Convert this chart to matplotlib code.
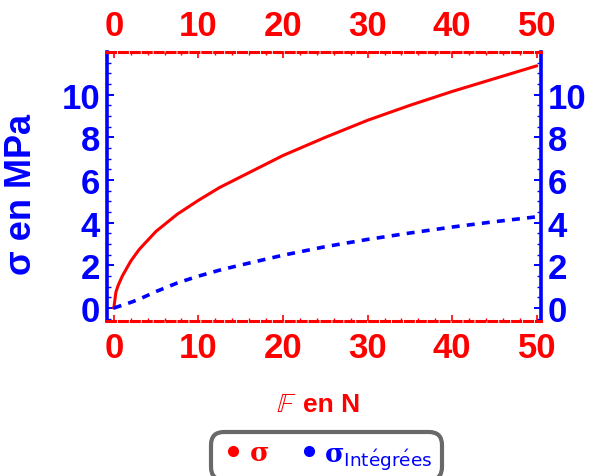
import matplotlib
matplotlib.use("Agg")
import matplotlib.pyplot as plt
from matplotlib.lines import Line2D
from matplotlib.ticker import MultipleLocator

# force F (N) and stresses (MPa)
force = [0, 0.25, 0.5, 1, 2, 3, 5, 7.5, 10, 12.5, 15, 20, 25, 30, 35, 40, 45, 50]
sigma = [0, 0.75, 1.05, 1.5, 2.2, 2.75, 3.6, 4.4, 5.05, 5.65, 6.15, 7.15, 8.0, 8.8, 9.5, 10.15, 10.75, 11.35]
sigma_int = [0, 0.04, 0.07, 0.14, 0.27, 0.42, 0.78, 1.18, 1.5, 1.78, 2.02, 2.48, 2.88, 3.22, 3.52, 3.8, 4.05, 4.28]

xticks = [0, 10, 20, 30, 40, 50]
yticks = [0, 2, 4, 6, 8, 10]

RED = "#ff0000"
BLUE = "#0000ff"

plt.rcParams["font.family"] = ["Liberation Sans", "DejaVu Sans"]
plt.rcParams["mathtext.fontset"] = "dejavuserif"

fig = plt.figure(figsize=(5.9, 4.77), dpi=100)
ax = fig.add_axes([0.1814, 0.325, 0.7356, 0.564])

ax.plot(force, sigma, color=RED, lw=2.2, solid_capstyle="round")
ax.plot(force, sigma_int, color=BLUE, lw=2.6, dashes=(2.2, 2.0))

ax.set_xlim(-0.8, 50.5)
ax.set_ylim(-0.6, 12)

# spines
for side in ("left", "right"):
    ax.spines[side].set_color(BLUE)
    ax.spines[side].set_linewidth(2.6)
for side in ("top", "bottom"):
    ax.spines[side].set_color(RED)
    ax.spines[side].set_linewidth(2.2)
    ax.spines[side].set_linestyle((0, (2.6, 1.3)))

# ticks
ax.set_xticks(xticks)
ax.set_yticks(yticks)
ax.xaxis.set_minor_locator(MultipleLocator(2))
ax.yaxis.set_minor_locator(MultipleLocator(0.5))
ax.tick_params(axis="x", which="both", direction="in", top=True, bottom=True,
               labeltop=True, labelbottom=True, colors=RED, labelsize=25, pad=7)
ax.tick_params(axis="x", which="major", length=4, width=1.2)
ax.tick_params(axis="x", which="minor", length=2, width=1)
ax.tick_params(axis="y", which="both", direction="in", left=True, right=True,
               labelleft=True, labelright=True, colors=BLUE, labelsize=25, pad=5)
ax.tick_params(axis="y", which="major", length=5, width=1.4)
ax.tick_params(axis="y", which="minor", length=3, width=1)
for t in ax.xaxis.get_major_ticks() + ax.yaxis.get_major_ticks():
    t.label1.set_fontweight("bold")
    t.label2.set_fontweight("bold")

fig.text(0.0356, 0.593, "σ en MPa", color=BLUE, fontsize=26, fontweight="bold",
         rotation=90, ha="center", va="center")
fig.text(0.503, 0.151, r"$\mathbb{F}$", color=RED, fontsize=20,
         ha="right", va="center")
fig.text(0.514, 0.151, "en N", color=RED, fontsize=19,
         fontweight="bold", ha="left", va="center")

# legend
handles = [
    Line2D([], [], ls="none", marker="o", ms=7, color=RED),
    Line2D([], [], ls="none", marker="o", ms=7, color=BLUE),
]
labels = [r"$\mathbf{\sigma}$", r"$\mathbf{\sigma}_{\mathsf{Int\acute{e}gr\acute{e}es}}$"]
leg = fig.legend(handles, labels, loc="center", bbox_to_anchor=(0.553, 0.042),
                 ncol=2, fontsize=19, frameon=True, fancybox=True,
                 handletextpad=0.1, columnspacing=1.0, borderpad=0.25,
                 handlelength=1.0)
frame = leg.get_frame()
frame.set_edgecolor("#444444")
frame.set_linewidth(3)
frame.set_boxstyle("round,pad=0.1,rounding_size=0.5")
leg.get_texts()[0].set_color(RED)
leg.get_texts()[1].set_color(BLUE)

fig.savefig("out.png", dpi=100)
